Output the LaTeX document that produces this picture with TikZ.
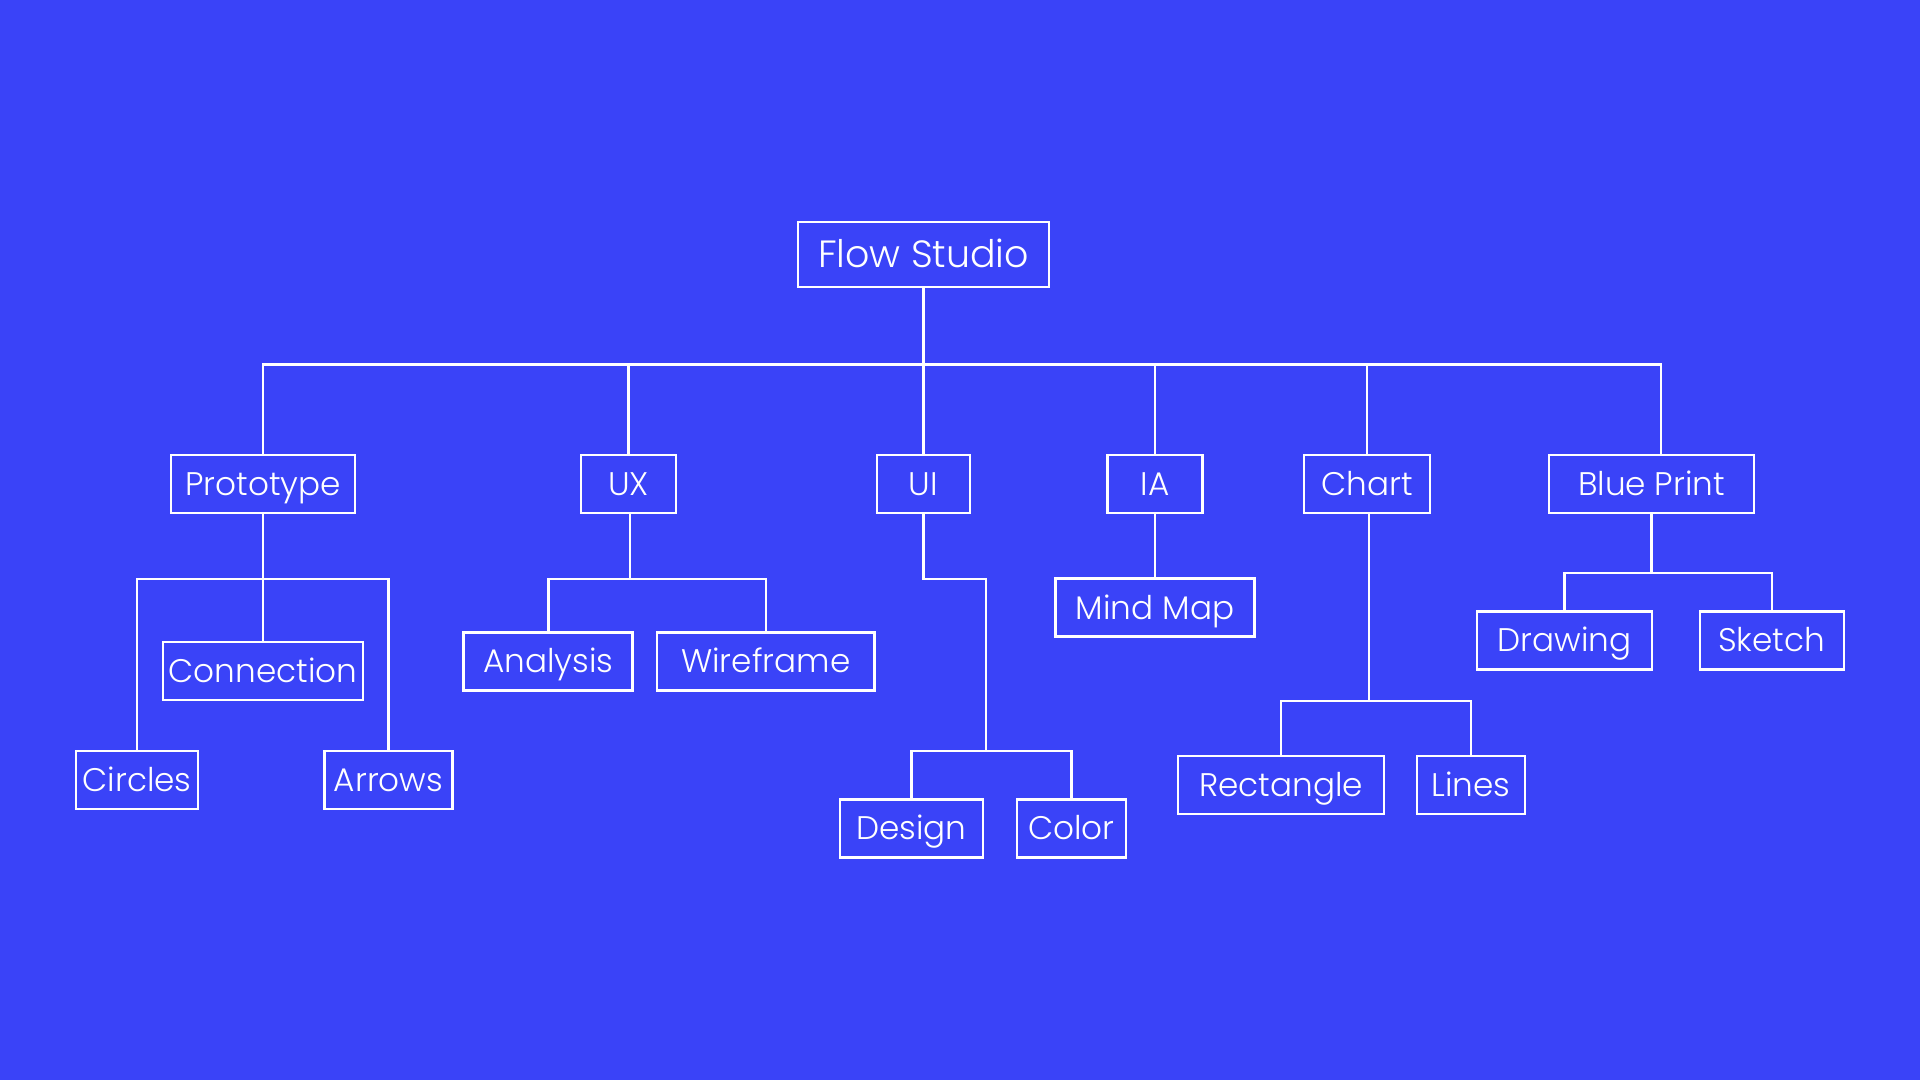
\documentclass[tikz,border=0pt]{standalone}
\usepackage{fontspec}
\setmainfont{Poppins Light}
\definecolor{bgblue}{HTML}{3A43F8}
\begin{document}
\begin{tikzpicture}[x=0.02cm,y=-0.02cm,
  wire/.style={draw=white,line width=1.4pt},
  box/.style={draw=white,line width=1.5pt,text=white,inner sep=0pt,minimum height=58*0.02cm,
    text height=12.9pt,text depth=0pt,
    font=\fontsize{18.6}{22}\selectfont},
  rootbox/.style={box,text height=15pt,font=\fontsize{21.6}{26}\selectfont},
]
\fill[bgblue] (0,0) rectangle (1920,1080);
\useasboundingbox (0,0) rectangle (1920,1080);
% root
\node[rootbox,minimum width=251*0.02cm,minimum height=65*0.02cm] (flow) at (923.5,254.5) {Flow Studio};
% level 1
\node[box,minimum width=184*0.02cm] (proto) at (263,484) {Prototype};
\node[box,minimum width=95*0.02cm] (ux) at (628.5,484) {UX};
\node[box,minimum width=93*0.02cm] (ui) at (923.5,484) {UI};
\node[box,minimum width=95*0.02cm] (ia) at (1155,484) {IA};
\node[box,minimum width=126*0.02cm] (chart) at (1367,484) {Chart};
\node[box,minimum width=205*0.02cm] (blue) at (1651.5,484) {Blue Print};
% level 2
\node[box,minimum width=122*0.02cm] (circles) at (137,780) {Circles};
\node[box,minimum width=200*0.02cm] (conn) at (263,671) {Connection};
\node[box,minimum width=128*0.02cm] (arrows) at (388.5,780) {Arrows};
\node[box,minimum width=169*0.02cm] (analysis) at (548.3,661.5) {Analysis};
\node[box,minimum width=217.5*0.02cm] (wire) at (765.8,661.5) {Wireframe};
\node[box,minimum width=143*0.02cm] (design) at (911.5,828.5) {Design};
\node[box,minimum width=109*0.02cm] (color) at (1071.5,828.5) {Color};
\node[box,minimum width=199*0.02cm] (mind) at (1155,607.7) {Mind Map};
\node[box,minimum width=206*0.02cm] (rect) at (1281,785) {Rectangle};
\node[box,minimum width=108*0.02cm] (lines) at (1470.8,785) {Lines};
\node[box,minimum width=175*0.02cm] (draw) at (1564.4,640.4) {Drawing};
\node[box,minimum width=144*0.02cm] (sketch) at (1771.8,640.4) {Sketch};
% junction coordinates
\coordinate (bus) at (923.5,364.7);
\coordinate (bluebus) at (1661,364.7);
\coordinate (pbar) at (263,579);
\coordinate (uxbar) at (630,579);
\coordinate (uiturn) at (986,579);
\coordinate (uibar) at (986,751);
\coordinate (chbar) at (1369,701);
\coordinate (bpbar) at (1651.5,573);
% root to level 1
\draw[wire] (flow.south) -- (bus);
\draw[wire] (proto.north) -- (proto.north |- bus) -- (bluebus) -- (bluebus |- blue.north);
\draw[wire] (ux.north) -- (ux.north |- bus);
\draw[wire] (ui.north) -- (ui.north |- bus);
\draw[wire] (ia.north) -- (ia.north |- bus);
\draw[wire] (chart.north) -- (chart.north |- bus);
% prototype
\draw[wire] (proto.south) -- (pbar);
\draw[wire] (circles.north) -- (circles.north |- pbar) -- (arrows.north |- pbar) -- (arrows.north);
\draw[wire] (pbar) -- (conn.north);
% ux
\draw[wire] (ux.south -| uxbar) -- (uxbar);
\draw[wire] (analysis.north) -- (analysis.north |- uxbar) -- (wire.north |- uxbar) -- (wire.north);
% ui
\draw[wire] (ui.south) -- (ui.south |- uiturn) -- (uiturn) -- (uibar);
\draw[wire] (design.north) -- (design.north |- uibar) -- (color.north |- uibar) -- (color.north);
% ia
\draw[wire] (ia.south) -- (mind.north);
% chart
\draw[wire] (chart.south -| chbar) -- (chbar);
\draw[wire] (rect.north) -- (rect.north |- chbar) -- (lines.north |- chbar) -- (lines.north);
% blue print
\draw[wire] (blue.south) -- (bpbar);
\draw[wire] (draw.north) -- (draw.north |- bpbar) -- (sketch.north |- bpbar) -- (sketch.north);
\end{tikzpicture}
\end{document}
